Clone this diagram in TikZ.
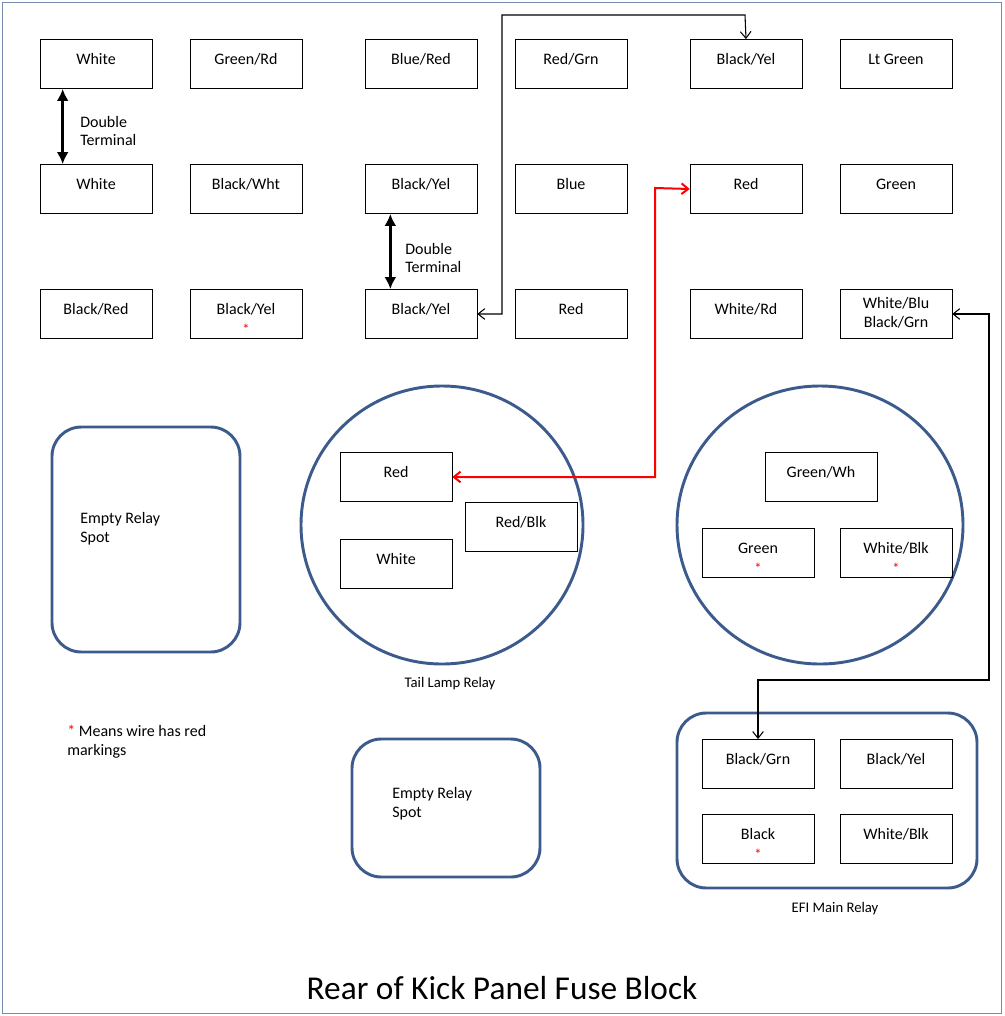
\documentclass[tikz,border=0pt]{standalone}
\usepackage{fontspec}
\setmainfont{Carlito}
\usetikzlibrary{arrows.meta,positioning}
\definecolor{relayblue}{RGB}{60,90,140}
\tikzset{fuse/.style={draw, minimum width=84pt, minimum height=37pt, inner sep=0pt, font=\fontsize{12}{14}\selectfont, align=center, text depth=7pt},
  relay/.style={draw=relayblue, line width=2.2pt, rounded corners=22pt},
  star/.style={text=red, font=\fontsize{11}{11}\selectfont, inner sep=0pt},
  txt/.style={font=\fontsize{12}{14}\selectfont, align=left, inner sep=0pt},
  small/.style={font=\fontsize{11}{13}\selectfont, inner sep=0pt},
  wire/.style={line width=0.8pt, {Straight Barb[length=5pt,width=8pt]}-{Straight Barb[length=5pt,width=8pt]}},
  double term/.style={line width=2.5pt, {Latex[length=9pt,width=9pt]}-{Latex[length=9pt,width=9pt]}}}

\begin{document}
\begin{tikzpicture}[x=0.75pt, y=-0.75pt]
  \useasboundingbox (0,0) rectangle (1004,1016);
  \draw[relayblue!70, thin] (2,2) rectangle (1001,1013);

  % top row
  \node[fuse] (w1) at (96,64) {White};
  \node[fuse] (gr1) at (246,64) {Green/Rd};
  \node[fuse] (br1) at (421,64) {Blue/Red};
  \node[fuse] (rg1) at (571,64) {Red/Grn};
  \node[fuse] (by1) at (746,64) {Black/Yel};
  \node[fuse] (lg1) at (896,64) {Lt Green};
  % middle row
  \node[fuse] (w2) at (96,189) {White};
  \node[fuse] (bw2) at (246,189) {Black/Wht};
  \node[fuse] (by2) at (421,189) {Black/Yel};
  \node[fuse] (b2) at (571,189) {Blue};
  \node[fuse] (r2) at (746,189) {Red};
  \node[fuse] (g2) at (896,189) {Green};
  % bottom row
  \node[fuse] (br3) at (96,314) {Black/Red};
  \node[fuse] (byA3) at (246,314) {Black/Yel};
  \node[star, above=3pt of byA3.south] {*};
  \node[fuse] (by3) at (421,314) {Black/Yel};
  \node[fuse] (r3) at (571,314) {Red};
  \node[fuse] (wr3) at (746,314) {White/Rd};
  \node[fuse, text depth=2pt] (wb3) at (896,314) {White/Blu\\Black/Grn};

  % double terminals
  \draw[double term] ([xshift=-25pt]w1.south) -- ([xshift=-25pt]w2.north);
  \node[txt, anchor=west] at (80,131) {Double\\Terminal};
  \draw[double term] ([xshift=-23pt]by2.south) -- ([xshift=-23pt]by3.north);
  \node[txt, anchor=west] at (405,258) {Double\\Terminal};

  % empty relay spots
  \draw[relay] (52,427) rectangle (240,652);
  \node[txt, anchor=north west] at (80,512) {Empty Relay\\Spot};
  \draw[relay] (352,739) rectangle (540,877);
  \node[txt, anchor=north west] at (392,787) {Empty Relay\\Spot};

  % tail lamp relay
  \draw[relayblue, line width=2.2pt] (442,525) ellipse (141 and 139);
  \node[fuse] (tr) at (396,477) {Red};
  \node[fuse] (trb) at (521,527) {Red/Blk};
  \node[fuse] (tw) at (396,564) {White};
  \node[small] at (450,684) {Tail Lamp Relay};

  % second relay
  \draw[relayblue, line width=2.2pt] (820,525) ellipse (143 and 139);
  \node[fuse] (gw) at (821,477) {Green/Wh};
  \node[fuse] (gc) at (758,553) {Green};
  \node[star, above=3pt of gc.south] {*};
  \node[fuse] (wbc) at (896,553) {White/Blk};
  \node[star, above=3pt of wbc.south] {*};

  % EFI main relay
  \draw[relay] (677,713) rectangle (977,888);
  \node[fuse] (efa) at (758,764) {Black/Grn};
  \node[fuse] (efb) at (896,764) {Black/Yel};
  \node[fuse] (efc) at (758,839) {Black};
  \node[star, above=3pt of efc.south] {*};
  \node[fuse] (efd) at (896,839) {White/Blk};
  \node[small] at (835,909) {EFI Main Relay};

  % wires
  \draw[wire] (by3.east) -- (502,314) -- (502,15) -- (745,15) -- (by1.north);
  \draw[wire, red, line width=1.5pt] (tr.east) -- (655,477) -- (655,188) -- (r2.west);
  \draw[wire] (wb3.east) -- (989,314) -- (989,680) -- (758,680) -- (efa.north);

  \node[txt, anchor=north west] at (67,725) {{\color{red}*} Means wire has red\\markings};
  \node[font=\fontsize{25}{28}\selectfont] at (502,988) {Rear of Kick Panel Fuse Block};
\end{tikzpicture}
\end{document}
